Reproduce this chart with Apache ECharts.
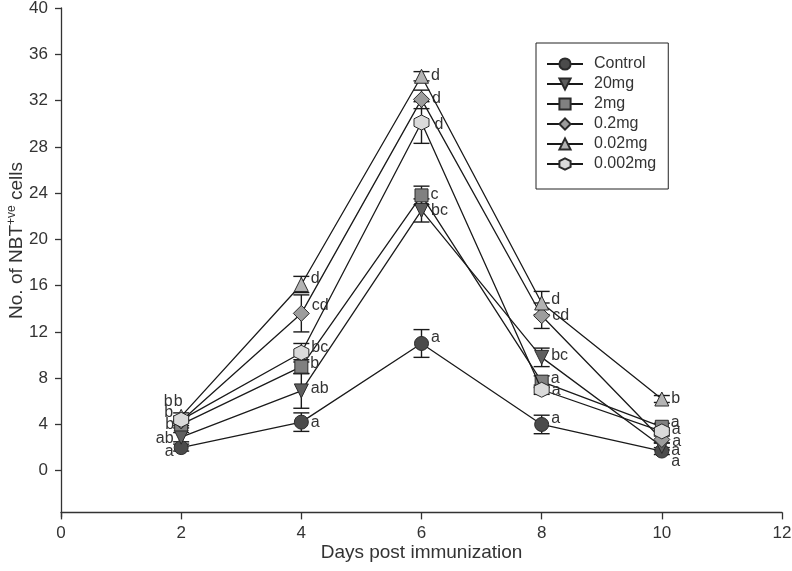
<!DOCTYPE html>
<html>
<head>
<meta charset="utf-8">
<script src="https://cdn.jsdelivr.net/npm/echarts@6/dist/echarts.min.js"></script>
<style>html,body{margin:0;padding:0;background:#fff}#c{width:792px;height:571px}</style>
</head>
<body>
<div id="c"></div>
<script>
// ---- data ----
const days = [2, 4, 6, 8, 10];
const seriesNames = ['Control', '20mg', '2mg', '0.2mg', '0.02mg', '0.002mg'];
const control   = [2.0, 4.2, 11.0, 4.0, 1.7];
const mg20      = [2.9, 6.9, 22.5, 9.8, 2.1];
const mg2       = [4.0, 9.0, 23.8, 7.7, 3.8];
const mg02      = [4.3, 13.6, 32.1, 13.4, 2.7];
const mg002     = [4.7, 16.1, 34.1, 14.5, 6.2];
const mg0002    = [4.4, 10.2, 30.1, 7.0, 3.4];
const controlErr = [0.3, 0.8, 1.2, 0.8, 0.3];
const mg20Err    = [0.4, 1.5, 1.0, 0.8, 0.3];
const mg2Err     = [0.3, 0.6, 0.8, 0.5, 0.3];
const mg02Err    = [0.4, 1.6, 0.8, 1.1, 0.3];
const mg002Err   = [0.3, 0.7, 0.4, 1.0, 0.3];
const mg0002Err  = [0.3, 0.8, 1.8, 0.4, 0.3];
const controlLbl = ['a', 'a', 'a', 'a', 'a'];
const mg20Lbl    = ['ab', 'ab', 'bc', 'bc', 'a'];
const mg2Lbl     = ['b', 'b', 'c', 'a', 'a'];
const mg02Lbl    = ['b', 'cd', 'd', 'cd', 'a'];
const mg002Lbl   = ['b', 'd', 'd', 'd', 'b'];
const mg0002Lbl  = ['b', 'bc', 'd', 'a', 'a'];
const xTicks = [0, 2, 4, 6, 8, 10, 12];
const yTicks = [0, 4, 8, 12, 16, 20, 24, 28, 32, 36, 40];

const values = [control, mg20, mg2, mg02, mg002, mg0002];
const errors = [controlErr, mg20Err, mg2Err, mg02Err, mg002Err, mg0002Err];
const letters = [controlLbl, mg20Lbl, mg2Lbl, mg02Lbl, mg002Lbl, mg0002Lbl];

// ---- styles ----
const FONT = 'Liberation Sans, Arial, sans-serif';
const hexPath = 'path://M0,-10 L8.66,-5 L8.66,5 L0,10 L-8.66,5 L-8.66,-5 Z';
const styles = [
  {symbol: 'circle', rot: 0, color: '#4b4b4b', size: 14},
  {symbol: 'triangle', rot: 180, color: '#5e5e5e', size: 14},
  {symbol: 'rect', rot: 0, color: '#808080', size: 13},
  {symbol: 'diamond', rot: 0, color: '#9d9d9d', size: 16},
  {symbol: 'triangle', rot: 0, color: '#b3b3b3', size: 14},
  {symbol: hexPath, rot: 0, color: '#dadada', size: 15}
];
// label placement per series per point: [position, dx, dy]
const lblPos = [
  [['left', 2, 4], ['right', 0, 0], ['right', 0, -6], ['right', 0, -6], ['right', 0, 11]],
  [['left', 2, 1], ['right', 0, -2], ['right', 0, 0], ['right', 0, -2], ['right', 0, 4]],
  [['left', 2, 0], ['right', 0, -3], ['right', 0, -1], ['right', 0, -3], ['right', 0, -4]],
  [['left', 2, -19], ['right', 0, -8], ['right', 0, -1], ['right', 0, 0], ['right', 0, 2]],
  [['left', 11, -15], ['right', 0, -6], ['right', 0, -1], ['right', 0, -3], ['right', 0, 0]],
  [['left', 2, -7], ['right', 0, -5], ['right', 3, 2], ['right', 0, 1], ['right', 0, -2]]
];

const series = [];
// error bars
values.forEach((vals, si) => {
  series.push({
    type: 'custom',
    name: seriesNames[si] + '_err',
    z: 1,
    silent: true,
    data: days.map((d, i) => [d, vals[i] - errors[si][i], vals[i] + errors[si][i]]),
    renderItem: function (params, api) {
      const x = api.value(0);
      const lo = api.coord([x, api.value(1)]);
      const hi = api.coord([x, api.value(2)]);
      const w = 8;
      const st = {stroke: '#1a1a1a', lineWidth: 1.4};
      return {
        type: 'group',
        children: [
          {type: 'line', shape: {x1: lo[0], y1: lo[1], x2: hi[0], y2: hi[1]}, style: st},
          {type: 'line', shape: {x1: lo[0] - w, y1: lo[1], x2: lo[0] + w, y2: lo[1]}, style: st},
          {type: 'line', shape: {x1: hi[0] - w, y1: hi[1], x2: hi[0] + w, y2: hi[1]}, style: st}
        ]
      };
    }
  });
});
// lines + markers + letters
values.forEach((vals, si) => {
  const s = styles[si];
  series.push({
    type: 'line',
    name: seriesNames[si],
    z: 3 + si,
    symbol: s.symbol,
    symbolRotate: s.rot,
    symbolSize: s.size,
    showAllSymbol: true,
    lineStyle: {color: '#1a1a1a', width: 1.3},
    itemStyle: {color: s.color, borderColor: '#2a2a2a', borderWidth: 1},
    emphasis: {disabled: true},
    data: days.map((d, i) => {
      const p = lblPos[si][i];
      return {
        value: [d, vals[i]],
        label: {
          show: true,
          formatter: letters[si][i],
          position: p[0],
          distance: 2,
          offset: [p[1], p[2]],
          color: '#333',
          fontSize: 16,
          fontFamily: FONT
        }
      };
    })
  });
});

const chart = echarts.init(document.getElementById('c'), null, {renderer: 'canvas'});
chart.setOption({
  animation: false,
  backgroundColor: '#fff',
  textStyle: {fontFamily: FONT},
  grid: {left: 61, right: 10, top: 8, bottom: 54, containLabel: false, outerBoundsMode: 'none'},
  legend: {
    data: seriesNames,
    orient: 'vertical',
    left: 536,
    top: 43,
    padding: [13, 12, 17, 10],
    itemWidth: 36,
    itemHeight: 14,
    itemGap: 4,
    borderColor: '#222',
    borderWidth: 1,
    backgroundColor: '#fff',
    textStyle: {fontSize: 16, color: '#333', fontFamily: FONT, padding: [0, 0, 0, 6]}
  },
  xAxis: {
    type: 'value',
    min: 0,
    max: 12,
    interval: 2,
    offset: -4.6,
    name: 'Days post immunization',
    nameLocation: 'middle',
    nameGap: 31,
    nameMoveOverlap: false,
    nameTextStyle: {fontSize: 19, color: '#333'},
    axisLine: {show: true, onZero: false, lineStyle: {color: '#333', width: 1.3}},
    axisTick: {show: true, inside: false, length: 7, lineStyle: {color: '#333', width: 1.3}},
    axisLabel: {fontSize: 17, color: '#333', margin: 12},
    splitLine: {show: false}
  },
  yAxis: {
    type: 'value',
    min: -4,
    max: 40,
    name: '{a|No. of NBT}{s|+ve}{a| cells}',
    nameLocation: 'middle',
    nameGap: 34,
    nameMoveOverlap: false,
    nameRotate: 90,
    nameTextStyle: {
      padding: [0, 0, 0, 44],
      rich: {
        a: {fontSize: 19, color: '#333', fontFamily: FONT},
        s: {fontSize: 12, color: '#333', verticalAlign: 'top', padding: [0, 0, 9, 0], fontFamily: FONT}
      }
    },
    axisLine: {show: true, onZero: false, lineStyle: {color: '#333', width: 1.3}},
    axisTick: {show: true, inside: false, length: 6, customValues: yTicks, lineStyle: {color: '#333', width: 1.3}},
    axisLabel: {fontSize: 17, color: '#333', margin: 13, customValues: yTicks},
    splitLine: {show: false}
  },
  series: series
});
</script>
</body>
</html>
